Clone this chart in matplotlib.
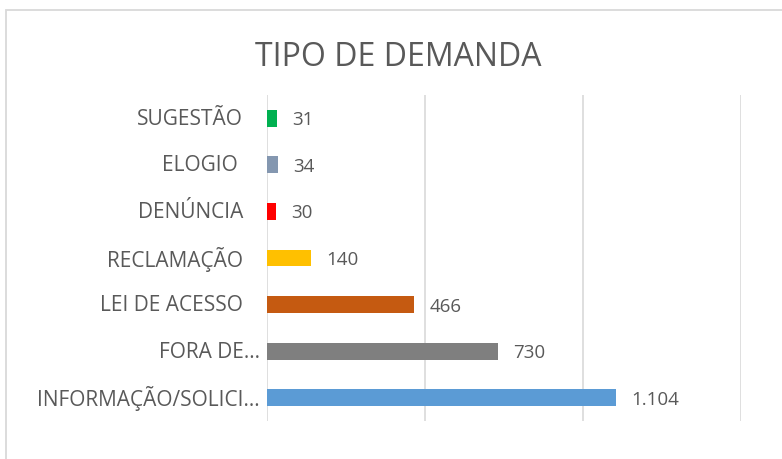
import matplotlib
matplotlib.use("Agg")
import matplotlib.pyplot as plt
from matplotlib.patches import Rectangle
from matplotlib.transforms import offset_copy


categorias = ["INFORMAÇÃO/SOLICI…", "FORA DE…", "LEI DE ACESSO", "RECLAMAÇÃO",
              "DENÚNCIA", "ELOGIO ", "SUGESTÃO"]
valores = [1104, 730, 466, 140, 30, 34, 31]
cores = ["#5B9BD5", "#7F7F7F", "#C55A11", "#FFC000", "#FF0000", "#8497B0", "#00B050"]

TEXTO = "#595959"
GRADE = "#D9D9D9"


def formatar(v):
    return f"{v:,}".replace(",", ".")


def main():
    plt.rcParams["font.family"] = ["Open Sans", "DejaVu Sans"]

    fig = plt.figure(figsize=(7.82, 4.59), dpi=100)
    ax = fig.add_axes([267 / 782, 1 - 421 / 459, 474 / 782, 326 / 459])

    # moldura cinza do gráfico (sai pela direita e por baixo)
    fig.patches.append(Rectangle((6 / 782, -0.05), 1.0, 1 - 10 / 459 + 0.05,
                                 transform=fig.transFigure, fill=False,
                                 edgecolor=GRADE, linewidth=1.3))

    y = list(range(len(categorias)))
    ax.barh(y, valores, height=0.36, color=cores, zorder=3)

    for yi, v in zip(y, valores):
        t = offset_copy(ax.transData, fig=fig, x=15, y=-2, units="dots")
        ax.text(v, yi, formatar(v), transform=t, va="center", ha="left",
                fontsize=13.5, color=TEXTO)

    # rótulos das categorias; os truncados ficam mais perto do eixo
    trans = ax.get_yaxis_transform()
    for yi, nome in zip(y, categorias):
        dx = -7 if nome.endswith("…") else -24
        t = offset_copy(trans, fig=fig, x=dx, y=-1, units="dots")
        ax.text(0, yi, nome, transform=t, ha="right", va="center",
                fontsize=15, color=TEXTO)

    ax.set_xlim(0, 1500)
    ax.set_ylim(-0.5, len(categorias) - 0.5)
    ax.set_xticks([0, 500, 1000, 1500])
    ax.set_xticklabels([])
    ax.set_yticks([])
    ax.grid(axis="x", color=GRADE, linewidth=1.2, zorder=0)
    ax.tick_params(axis="both", length=0)
    for s in ax.spines.values():
        s.set_visible(False)

    fig.text(398 / 782, 1 - 57 / 459, "TIPO DE DEMANDA", ha="center", va="center",
             fontsize=23, color=TEXTO)

    fig.savefig("out.png", dpi=100)


if __name__ == "__main__":
    main()
